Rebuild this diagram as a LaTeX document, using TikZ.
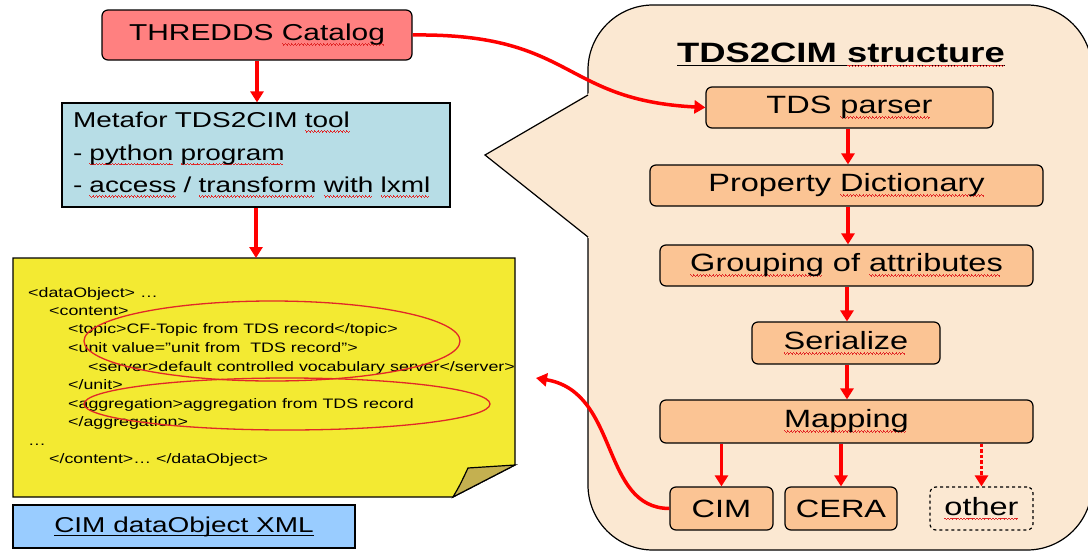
\documentclass[tikz,border=0pt]{standalone}
\usepackage{fontspec}
\setmainfont[FakeStretch=1.3]{Liberation Sans}
\usetikzlibrary{arrows.meta}
\definecolor{sqred}{RGB}{225,40,40}
\definecolor{thrfill}{RGB}{255,128,128}
\definecolor{metafill}{RGB}{183,221,230}
\definecolor{notefill}{RGB}{243,234,50}
\definecolor{foldfill}{RGB}{196,176,80}
\definecolor{xmlfill}{RGB}{153,204,255}
\definecolor{callfill}{RGB}{251,232,210}
\definecolor{stepfill}{RGB}{251,196,148}
\definecolor{arrred}{RGB}{255,0,0}
\newsavebox\sqbox
\newcommand\wavepiece{\hbox{{\color{sqred}\rule[-3.4pt]{0.8pt}{0.9pt}\rule[-4.1pt]{0.8pt}{0.9pt}\rule[-4.8pt]{0.8pt}{0.9pt}\rule[-4.1pt]{0.8pt}{0.9pt}}}}
\newcommand\sq[1]{\sbox\sqbox{#1}\rlap{\hbox to \wd\sqbox{\leaders\wavepiece\hfill}}\usebox\sqbox}
\newcommand\uln[1]{\sbox\sqbox{#1}\rlap{\rule[-4pt]{\wd\sqbox}{1pt}}\usebox\sqbox}
\newcommand\fsz[1]{\fontsize{#1}{#1}\selectfont}
\begin{document}
\begin{tikzpicture}[x=1pt,y=-1pt,
  boxbase/.style={draw=black, line width=1.2pt, inner sep=0pt},
  stepbox/.style={boxbase, fill=stepfill, rounded corners=6pt, font=\fsz{25}},
  arr/.style={draw=arrred, line width=3.5pt, -{Triangle[width=13pt,length=11pt]}},
  xmltext/.style={anchor=base west, inner sep=0pt, font=\fsz{13.7}}]
\useasboundingbox (0,0) rectangle (1088,555);
\fill[white] (0,0) rectangle (1088,555);

% callout
\draw[fill=callfill, line width=1.2pt, rounded corners=65pt] (588,5) rectangle (1092,550);
\fill[callfill] (485,155) -- (591,92) -- (591,240) -- cycle;
\draw[line width=1.2pt] (588,95) -- (485,155) -- (588,237);
\node[anchor=base, inner sep=0pt, font=\bfseries\fsz{28}] (title) at (841,62) {\uln{TDS2CIM \sq{structure}}};

% left column
\node[boxbase, fill=thrfill, rounded corners=6pt, minimum width=310, minimum height=50, font=\fsz{23}] (thredds) at (257,35) {THREDDS \sq{Catalog}};
\node[boxbase, fill=metafill, minimum width=388, minimum height=104, text width=366, align=left, inner xsep=11pt, font=\fontsize{21.5}{32.5}\selectfont] (meta) at (256,155) {Metafor TDS2CIM \sq{tool}\\- \sq{python} \sq{program}\\- \sq{access} / \sq{transform} \sq{with} \sq{lxml}};

% note
\draw[fill=notefill, line width=1.2pt] (13,258) -- (515,258) -- (515,465) -- (453,497) -- (13,497) -- cycle;
\draw[fill=foldfill, line width=1.2pt] (453,497) .. controls (460,485) .. (468,468) -- (515,465) -- cycle;
\coordinate (notetop) at (256,258);
\coordinate (noteright) at (536,378);
\node[xmltext] (x1) at (28,297) {<dataObject> …};
\node[xmltext] (x2) at (49,315) {<content>};
\node[xmltext] (x3) at (68,333) {<topic>CF-Topic from TDS record</topic>};
\node[xmltext] (x4) at (68,352) {<unit value="unit from\ \ TDS record">};
\node[xmltext] (x5) at (88,371) {<server>default controlled vocabulary server</server>};
\node[xmltext] (x6) at (68,389) {</unit>};
\node[xmltext] (x7) at (68,408) {<aggregation>aggregation from TDS record};
\node[xmltext] (x8) at (68,426) {</aggregation>};
\node[xmltext] (x9) at (28,445) {…};
\node[xmltext] (x10) at (49,463) {</content>… </dataObject>};
\draw[sqred, line width=1.3pt] (272,341) ellipse [x radius=188, y radius=40];
\draw[sqred, line width=1.3pt] (287,404) ellipse [x radius=203, y radius=26];

\node[boxbase, fill=xmlfill, minimum width=342, minimum height=43, font=\fsz{21.5}] (cimxml) at (184,526.5) {\uln{CIM dataObject XML}};

% steps
\node[stepbox, minimum width=287, minimum height=41] (parser) at (849.5,107.5) {TDS \sq{parser}};
\node[stepbox, minimum width=393, minimum height=41] (propd) at (846.5,185.5) {Property \sq{Dictionary}};
\node[stepbox, minimum width=373, minimum height=41] (group) at (846.5,265.5) {\sq{Grouping} of \sq{attributes}};
\node[stepbox, minimum width=188, minimum height=42] (serial) at (846,343) {\sq{Serialize}};
\node[stepbox, minimum width=373, minimum height=43] (mapping) at (846.5,421.5) {\sq{Mapping}};
\node[stepbox, minimum width=103, minimum height=43] (cim) at (721.5,508.5) {CIM};
\node[stepbox, minimum width=112, minimum height=43] (cera) at (841,508.5) {CERA};
\node[stepbox, fill=none, dashed, minimum width=103, minimum height=43] (other) at (981.5,508.5) {\sq{other}};

% arrows
\draw[arr] (thredds.south) -- (thredds.south |- meta.north);
\draw[arr] (meta.south) -- (notetop);
\draw[arr] (parser.south -| 848,0) -- (propd.north -| 848,0);
\draw[arr] (propd.south -| 848,0) -- (group.north -| 848,0);
\draw[arr] (group.south -| 847,0) -- (serial.north -| 847,0);
\draw[arr] (serial.south -| 847,0) -- (mapping.north -| 847,0);
\draw[arr] (mapping.south -| cim.north) -- (cim.north);
\draw[arr] (mapping.south -| cera.north) -- (cera.north);
\draw[arr, dotted] (mapping.south -| other.north) -- (other.north);
\draw[arr] (thredds.east) .. controls (575,33) and (560,100) .. (parser.west);
\draw[arr] (cim.west) .. controls (600,508) and (620,392) .. (noteright);
\end{tikzpicture}
\end{document}
